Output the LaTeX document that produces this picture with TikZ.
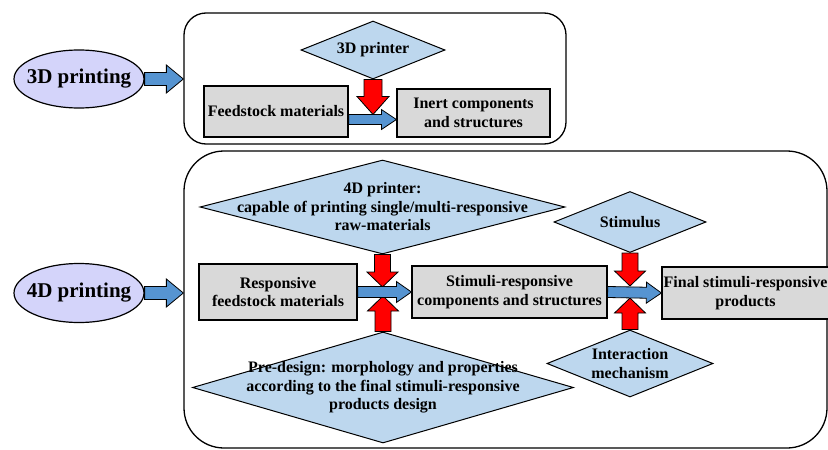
\documentclass[tikz,border=0pt]{standalone}
\usepackage{fontspec}
\setmainfont{Liberation Serif}
\usetikzlibrary{positioning, shapes.geometric, calc}

\definecolor{lavender}{RGB}{212,212,250}
\definecolor{diamondblue}{RGB}{189,215,238}
\definecolor{boxgrey}{RGB}{217,217,217}
\definecolor{arrowblue}{RGB}{86,148,209}
\definecolor{arrowred}{RGB}{255,0,0}

\newcommand{\boxfont}{\fontsize{16}{18.5}\selectfont\bfseries}
\newcommand{\stagefont}{\fontsize{21}{24}\selectfont\bfseries}

% fat outlined arrow: colour, from, to, half shaft, half head, head length
\newcommand{\fatarrow}[6]{%
  \coordinate (fa-s) at (#2);
  \coordinate (fa-e) at (#3);
  \coordinate (fa-h) at ($(fa-e)!#6!(fa-s)$);
  \filldraw[fill=#1, draw=black, line width=0.8pt]
    ($(fa-s)!#4!90:(fa-e)$) -- ($(fa-h)!#4!90:(fa-e)$) -- ($(fa-h)!#5!90:(fa-e)$)
    -- (fa-e) -- ($(fa-h)!#5!-90:(fa-e)$) -- ($(fa-h)!#4!-90:(fa-e)$)
    -- ($(fa-s)!#4!-90:(fa-e)$) -- cycle;
}

\tikzset{
  stage/.style={ellipse, draw, line width=1.2pt, fill=lavender, inner sep=0pt},
  panel/.style={rectangle, draw, line width=1.3pt, rounded corners=22pt},
  stepbox/.style={rectangle, draw, line width=1.2pt, fill=boxgrey,
    inner sep=0pt, align=center, font=\boxfont},
  decision/.style={diamond, draw, line width=1pt, fill=diamondblue, inner sep=0pt},
  labtext/.style={font=\boxfont, align=center}
}

\begin{document}
\begin{tikzpicture}[x=1pt, y=-1pt]
  \useasboundingbox (0,0) rectangle (828,450);

  % panels
  \node[panel, minimum width=382pt, minimum height=131pt] (panel3d) at (375,78.5) {};
  \node[panel, rounded corners=40pt,
    minimum width=643pt, minimum height=297pt] (panel4d) at (505.5,299.5) {};

  % stages
  \node[stage, minimum width=130pt, minimum height=58pt,
    label={[font=\stagefont]center:3D printing}] (print3d) at (79,79) {};
  \node[stage, minimum width=130pt, minimum height=59pt,
    label={[font=\stagefont]center:4D printing}] (print4d) at (79,293) {};

  % 3D printing
  \node[decision, minimum width=144pt, minimum height=58pt,
    label={[labtext]center:3D printer}] (printer3d) at (373,50) {};
  \node[stepbox, minimum width=144pt, minimum height=51pt] (feed3d) at (276,111.5)
    {Feedstock materials};
  \node[stepbox, minimum width=153pt, minimum height=48pt] (inert) at (473.5,113)
    {Inert components\\and structures};

  % 4D printing
  \node[decision, minimum width=365pt, minimum height=94pt,
    label={[labtext]center:{4D printer:\\capable of printing single/multi-responsive\\raw-materials}}]
    (printer4d) at (382.5,207) {};
  \node[decision, minimum width=381pt, minimum height=111pt,
    label={[labtext]center:{Pre-design: morphology and properties\\according to the final stimuli-responsive\\products design}}]
    (predesign) at (383,387.5) {};
  \node[decision, minimum width=152pt, minimum height=61pt,
    label={[labtext]center:Stimulus}] (stimulus) at (630,222) {};
  \node[decision, minimum width=166pt, minimum height=67pt,
    label={[labtext]center:{Interaction\\mechanism}}] (mechanism) at (630,363.5) {};

  \node[stepbox, minimum width=158pt, minimum height=56pt] (resp) at (278,292)
    {Responsive\\feedstock materials};
  \node[stepbox, minimum width=195pt, minimum height=52pt] (stimresp) at (509.5,292)
    {Stimuli-responsive\\components and structures};
  \node[stepbox, minimum width=167pt, minimum height=52pt] (final) at (745.5,293)
    {Final stimuli-responsive\\products};

  % arrows
  \coordinate (f3a) at ([yshift=-8pt]feed3d.east);
  \coordinate (f3b) at (f3a -| inert.west);

  \fatarrow{arrowred}{printer3d.south}{$(printer3d.south |- f3a)+(0,-5)$}{9pt}{16pt}{18pt}
  \fatarrow{arrowred}{printer4d.south}{$(printer4d.south |- resp.east)+(0,-5)$}{8pt}{15.5pt}{15pt}
  \fatarrow{arrowred}{predesign.north}{$(predesign.north |- resp.east)+(0,4)$}{8pt}{15.5pt}{15pt}
  \fatarrow{arrowred}{stimulus.south}{$(stimulus.south |- final.west)+(0,-7)$}{8pt}{15.5pt}{15pt}
  \fatarrow{arrowred}{mechanism.north}{$(mechanism.north |- final.west)+(0,5)$}{8pt}{15.5pt}{15pt}

  \fatarrow{arrowblue}{print3d.east}{print3d.east -| panel3d.west}{6.5pt}{14pt}{17pt}
  \fatarrow{arrowblue}{print4d.east}{print4d.east -| panel4d.west}{6.5pt}{14pt}{17pt}
  \fatarrow{arrowblue}{f3a}{f3b}{5pt}{10pt}{15pt}
  \fatarrow{arrowblue}{resp.east}{stimresp.west}{5.5pt}{10.5pt}{15pt}
  \fatarrow{arrowblue}{stimresp.east}{final.west}{5.5pt}{10.5pt}{15pt}
\end{tikzpicture}
\end{document}
